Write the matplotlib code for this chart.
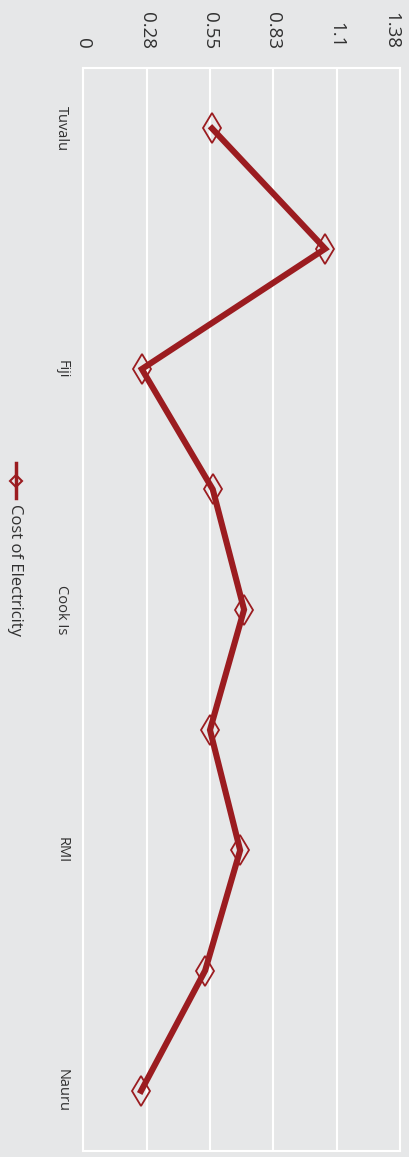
import numpy as np
import matplotlib.pyplot as plt
from matplotlib.lines import Line2D

plt.rcParams["font.family"] = ["Open Sans", "DejaVu Sans"]

# ----------------------------------------------------------------------
# data (chart is drawn rotated: value axis runs left->right, categories top->bottom)
categories = ["Tuvalu", "", "Fiji", "", "Cook Is", "", "RMI", "", "Nauru"]
cost = [0.559, 1.050, 0.254, 0.562, 0.698, 0.550, 0.681, 0.529, 0.251]
value_ticks = [0, 0.275, 0.55, 0.825, 1.1, 1.375]
value_labels = ["0", "0.28", "0.55", "0.83", "1.1", "1.38"]
series_name = "Cost of Electricity"

BG = "#e6e7e8"
RED = "#9b1c20"
TXT = "#303030"

W, H = 409, 1157
fig = plt.figure(figsize=(W / 100, H / 100), dpi=100, facecolor=BG)

# plot area in pixel coords
left, right, top, bottom = 83.3, 400.0, 68.3, 1151.0
ax = fig.add_axes([left / W, 1 - bottom / H, (right - left) / W, (bottom - top) / H])
ax.set_facecolor(BG)

idx = np.arange(len(categories))

# markers behind the line
ax.plot(cost, idx, linestyle="none", marker="d", markersize=15,
        markerfacecolor="none", markeredgecolor=RED, markeredgewidth=1.3,
        zorder=3)
ax.plot(cost, idx, color=RED, linewidth=4.4, solid_joinstyle="miter",
        zorder=4)

ax.set_xlim(0, 1.375)
ax.set_ylim(len(categories) - 0.5, -0.5)

ax.set_xticks(value_ticks)
ax.set_xticklabels(value_labels, rotation=-90, fontsize=13.5, color=TXT)
ax.xaxis.tick_top()
ax.tick_params(axis="x", length=0, pad=14)
# last label kept inside the figure
ax.get_xticklabels()[-1].set_horizontalalignment("right")

ax.set_yticks(idx)
ax.set_yticklabels(categories, rotation=-90, fontsize=10.5, color=TXT,
                   va="center", ha="center")
ax.tick_params(axis="y", length=0, pad=15.5)

ax.grid(axis="x", color="white", linewidth=1.5, zorder=1)
ax.set_axisbelow(True)
for sp in ax.spines.values():
    sp.set_color("white")
    sp.set_linewidth(1.5)

# legend drawn by hand (rotated)
lx = 16 / W
fig.add_artist(Line2D([lx, lx], [1 - 463 / H, 1 - 498 / H], color=RED,
                      linewidth=2.5, transform=fig.transFigure))
fig.add_artist(Line2D([lx], [1 - 481 / H], marker="D", markersize=6,
                      markerfacecolor="none", markeredgecolor=RED,
                      markeredgewidth=1.5, transform=fig.transFigure))
fig.text(lx - 1 / W, 1 - 504 / H, series_name, rotation=-90, fontsize=12,
         color=TXT, ha="center", va="top")

fig.savefig("out.png", dpi=100, facecolor=BG)
